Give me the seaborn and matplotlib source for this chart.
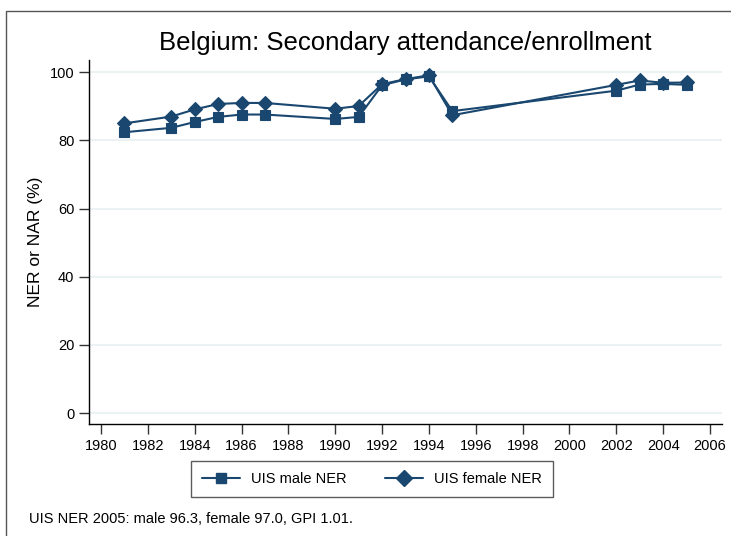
import matplotlib
matplotlib.use('Agg')
import matplotlib.pyplot as plt
import seaborn as sns
import pandas as pd
from matplotlib.patches import Rectangle

years = [1981, 1983, 1984, 1985, 1986, 1987, 1990, 1991, 1992, 1993, 1994, 1995, 2002, 2003, 2004, 2005]
male_ner = [82.4, 83.7, 85.4, 86.9, 87.6, 87.6, 86.3, 86.9, 96.2, 97.9, 98.8, 88.6, 94.6, 96.4, 96.6, 96.3]
female_ner = [85.0, 87.0, 89.1, 90.7, 91.0, 91.0, 89.3, 90.1, 96.5, 98.0, 99.1, 87.4, 96.3, 97.6, 96.9, 97.0]
series_names = ['UIS male NER', 'UIS female NER']
x_ticks = list(range(1980, 2007, 2))
y_ticks = [0, 20, 40, 60, 80, 100]

title = 'Belgium: Secondary attendance/enrollment'
note = 'UIS NER 2005: male 96.3, female 97.0, GPI 1.01.'

df = pd.DataFrame({
    'year': years * 2,
    'value': male_ner + female_ner,
    'series': [series_names[0]] * len(years) + [series_names[1]] * len(years),
})

sns.set_style('white')
plt.rcParams['font.family'] = ['Liberation Sans', 'DejaVu Sans']
plt.rcParams['text.color'] = 'black'
plt.rcParams['axes.labelcolor'] = 'black'
plt.rcParams['xtick.color'] = 'black'
plt.rcParams['ytick.color'] = 'black'

navy = '#1a476f'
fig = plt.figure(figsize=(7.31, 5.36), dpi=100)
ax = fig.add_axes([89 / 731, 112 / 536, (722 - 89) / 731, (424 - 60) / 536])

sns.lineplot(data=df, x='year', y='value', hue='series', style='series',
             palette=[navy, navy], markers={series_names[0]: 's', series_names[1]: 'D'},
             dashes=False, markersize=7.5, markeredgecolor=navy, markeredgewidth=0.8,
             linewidth=1.5, ax=ax, legend=False)

ax.set_xlim(1979.49, 2006.51)
ax.set_ylim(-3.2, 103.6)
ax.set_xticks(x_ticks)
ax.set_yticks(y_ticks)
ax.tick_params(axis='both', labelsize=10.5, length=7, width=1, direction='out',
               color='#333333', pad=3.5, bottom=True, left=True)
ax.yaxis.grid(True, color='#eaf2f3', linewidth=1.5)
ax.xaxis.grid(False)
for s in ['top', 'right']:
    ax.spines[s].set_visible(False)
for s in ['left', 'bottom']:
    ax.spines[s].set_color('black')
    ax.spines[s].set_linewidth(1)
ax.set_xlabel('')
ax.set_ylabel('NER or NAR (%)', fontsize=12.5, labelpad=5)
ax.set_title(title, fontsize=18.5, pad=7)

handles = [plt.Line2D([], [], color=navy, marker=m, markersize=ms, linewidth=1.5)
           for m, ms in [('s', 7), ('D', 8)]]
leg = fig.legend(handles, series_names, loc='center', bbox_to_anchor=(372 / 731, 1 - 479 / 536),
                 ncol=2, fontsize=10.5, frameon=True, fancybox=False, edgecolor='#333333',
                 handlelength=2.6, handletextpad=0.8, columnspacing=2.6, borderpad=0.75)
leg.get_frame().set_linewidth(1)

fig.text(29 / 731, 1 - 519 / 536, note, fontsize=10.5, va='center', ha='left')

fig.patches.append(Rectangle((6 / 731, -0.1), 1.2, 1 - 11 / 536 + 0.1, transform=fig.transFigure,
                             fill=False, edgecolor='#555555', linewidth=1))

fig.savefig('out.png', dpi=100)
